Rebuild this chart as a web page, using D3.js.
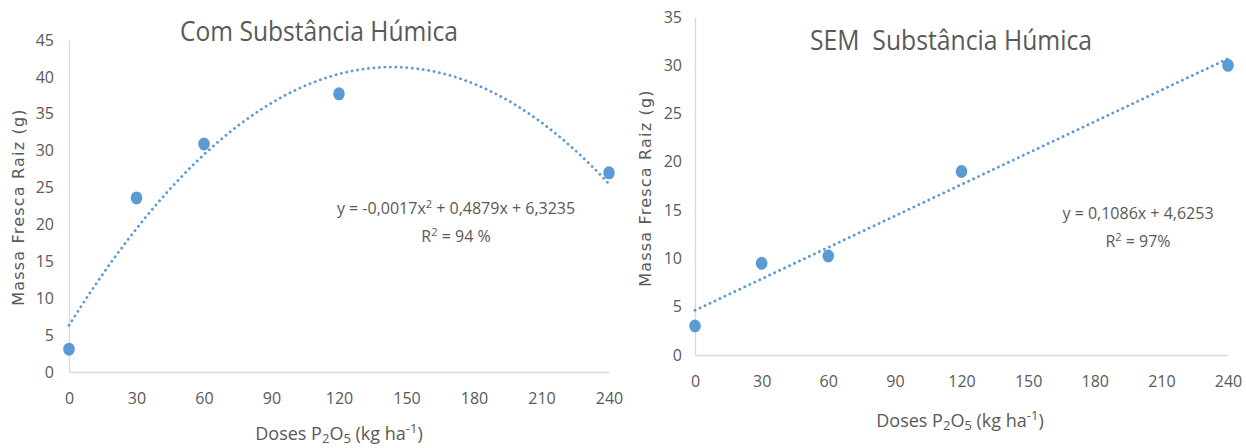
<!DOCTYPE html>
<html>
<head>
<meta charset="utf-8">
<script src="https://cdn.jsdelivr.net/npm/d3@7"></script>
<style>
  body { margin: 0; background: #fff; }
  text { font-family: "Liberation Sans Narrow", "Open Sans", sans-serif; fill: #595959; white-space: pre; }
  .tick text { font-size: 16px; }
  .axis .domain { stroke: #d9d9d9; stroke-width: 1.3; }
  .ylab { font-family: "DejaVu Sans", sans-serif; font-size: 16px; letter-spacing: 1.2px; }
</style>
</head>
<body>
<div id="chart"></div>
<script>
// data
var doses = [0, 30, 60, 120, 240];
var massaCom = [3.1, 23.6, 30.9, 37.7, 27.0];
var massaSem = [3.0, 9.5, 10.25, 19.0, 30.0];
var xTicks = [0, 30, 60, 90, 120, 150, 180, 210, 240];
var yTicksCom = [0, 5, 10, 15, 20, 25, 30, 35, 40, 45];
var yTicksSem = [0, 5, 10, 15, 20, 25, 30, 35];
// trend line coefficients (c0 + c1 x + c2 x^2), as printed on the chart
var coefCom = [6.3235, 0.4879, -0.0017];
var coefSem = [4.6253, 0.1086];

var blue = "#5b9bd5";

var svg = d3.select("#chart").append("svg")
  .attr("width", 1246)
  .attr("height", 448);

function drawChart(o) {
  var g = svg.append("g");

  var x = d3.scaleLinear().domain([0, 240]).range(o.xRange);
  var y = d3.scaleLinear().domain([0, o.yMax]).range(o.yRange);

  g.append("g")
    .attr("class", "axis")
    .attr("transform", "translate(0," + o.yRange[0] + ")")
    .call(d3.axisBottom(x).tickValues(xTicks).tickSize(0).tickPadding(21).tickSizeOuter(0));

  g.append("g")
    .attr("class", "axis")
    .attr("transform", "translate(" + o.xRange[0] + ",0)")
    .call(d3.axisLeft(y).tickValues(o.yTicks).tickSize(0).tickPadding(o.yPad).tickSizeOuter(0));

  g.selectAll(".axis text").attr("font-family", null).attr("font-size", null).attr("fill", null);

  // trend line
  var pts = d3.range(0, 240.01, 2).map(function(v) {
    var val = 0;
    o.coef.forEach(function(c, i) { val += c * Math.pow(v, i); });
    return [v, val];
  });
  g.append("path")
    .datum(pts)
    .attr("fill", "none")
    .attr("stroke", blue)
    .attr("stroke-width", 2.8)
    .attr("stroke-linecap", "round")
    .attr("stroke-dasharray", "0.1 5.4")
    .attr("d", d3.line().x(function(d) { return x(d[0]); }).y(function(d) { return y(d[1]); }));

  g.selectAll("ellipse.dot")
    .data(doses)
    .enter()
    .append("ellipse")
    .attr("class", "dot")
    .attr("cx", function(d) { return x(d); })
    .attr("cy", function(d, i) { return y(o.values[i]); })
    .attr("rx", 5.8)
    .attr("ry", 6.5)
    .attr("fill", blue);

  g.append("text")
    .attr("x", o.titleX)
    .attr("y", o.titleY)
    .attr("text-anchor", "middle")
    .attr("font-size", 27)
    .attr("textLength", o.titleW)
    .attr("lengthAdjust", "spacingAndGlyphs")
    .text(o.title);

  g.append("text")
    .attr("class", "ylab")
    .attr("transform", "translate(" + o.yLabX + "," + o.yLabY + ") rotate(-90)")
    .attr("text-anchor", "middle")
    .text("Massa Fresca Raiz (g)");

  var xl = g.append("text")
    .attr("x", o.xLabX)
    .attr("y", o.xLabY)
    .attr("text-anchor", "middle")
    .attr("font-size", 18);
  xl.append("tspan").text("Doses P");
  xl.append("tspan").attr("dy", 3).attr("font-size", 13).text("2");
  xl.append("tspan").attr("dy", -3).text("O");
  xl.append("tspan").attr("dy", 3).attr("font-size", 13).text("5");
  xl.append("tspan").attr("dy", -3).text(" (kg ha");
  xl.append("tspan").attr("dy", -7).attr("font-size", 13).text("-1");
  xl.append("tspan").attr("dy", 7).text(")");

  var eq = g.append("text")
    .attr("x", o.eqX)
    .attr("y", o.eqY)
    .attr("text-anchor", "middle")
    .attr("font-size", 16);
  o.eqParts.forEach(function(p) {
    eq.append("tspan").attr("dy", p.sup ? -6 : (p.after ? 6 : 0))
      .attr("font-size", p.sup ? 11 : null).text(p.t);
  });

  var r2 = g.append("text")
    .attr("x", o.eqX)
    .attr("y", o.eqY + 28)
    .attr("text-anchor", "middle")
    .attr("font-size", 16);
  r2.append("tspan").text("R");
  r2.append("tspan").attr("dy", -6).attr("font-size", 11).text("2");
  r2.append("tspan").attr("dy", 6).text(" = " + o.r2);
}

drawChart({
  xRange: [69, 609], yRange: [372, 40], yMax: 45, yTicks: yTicksCom, yPad: 15,
  values: massaCom, coef: coefCom,
  title: "Com Substância Húmica", titleX: 319, titleY: 41, titleW: 278,
  yLabX: 24, yLabY: 207, xLabX: 339, xLabY: 440,
  eqX: 456, eqY: 214,
  eqParts: [{t: "y = -0,0017x"}, {t: "2", sup: true}, {t: " + 0,4879x + 6,3235", after: true}],
  r2: "94 %"
});

drawChart({
  xRange: [695, 1228], yRange: [355, 17], yMax: 35, yTicks: yTicksSem, yPad: 13,
  values: massaSem, coef: coefSem,
  title: "SEM  Substância Húmica", titleX: 951, titleY: 50, titleW: 282,
  yLabX: 651, yLabY: 188, xLabX: 960, xLabY: 427,
  eqX: 1138, eqY: 219,
  eqParts: [{t: "y = 0,1086x + 4,6253"}],
  r2: "97%"
});
</script>
</body>
</html>
